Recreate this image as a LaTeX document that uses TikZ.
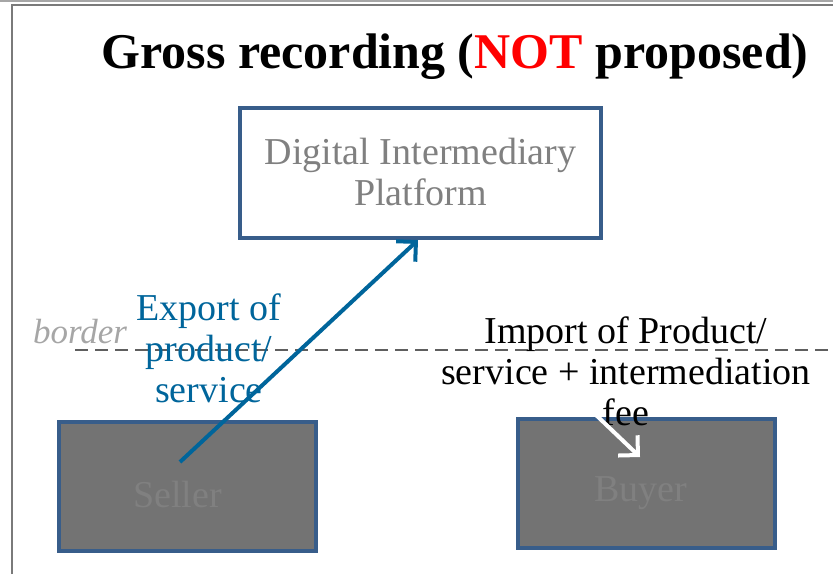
\documentclass[tikz,border=0pt]{standalone}
\usepackage{fontspec}
\setmainfont{Liberation Serif}
\usetikzlibrary{arrows.meta}
\definecolor{boxblue}{HTML}{385D8A}
\definecolor{boxfill}{HTML}{737373}
\definecolor{boxtext}{HTML}{808080}
\definecolor{arrblue}{HTML}{00659B}
\definecolor{bordtext}{HTML}{A6A6A6}
\definecolor{dashgray}{HTML}{5F5F5F}
\definecolor{framegray}{HTML}{7A7A7A}
\tikzset{
  x=1pt, y=-1pt,
  bigfont/.style={font=\fontsize{38}{41}\selectfont},
  platbox/.style={draw=boxblue, line width=4pt, fill=white, minimum width=361pt, minimum height=130pt, inner sep=0pt},
  partybox/.style={draw=boxblue, line width=4pt, fill=boxfill, minimum width=257pt, minimum height=129pt, inner sep=0pt},
  lbl/.style={bigfont, align=center, inner sep=0pt, anchor=base},
  flow/.style={line width=4pt, -{Straight Barb[length=14pt,width=28pt,line width=4pt]}},
}
\begin{document}
\begin{tikzpicture}
\useasboundingbox (0,0) rectangle (833,574);
% frame
\coordinate (ftl) at (0,1);
\coordinate (ftr) at (833,1);
\draw[line width=2pt, draw=gray!70] (ftl) -- (ftr);
\coordinate (fa) at (11.5,574);
\coordinate (fb) at (11.5,5);
\coordinate (fc) at (833,5);
\draw[line width=2pt, draw=framegray] (fa) -- (fb) -- (fc);
% title
\node[anchor=base, inner sep=0pt, font=\fontsize{50}{55}\selectfont\bfseries] (title) at (455,68) {Gross recording (\textcolor{red}{NOT} proposed)};
% border
\coordinate (dl) at (75,350);
\coordinate (dr) at (833,350);
\draw[dashgray, line width=2.5pt, dash pattern=on 13pt off 7pt] (dl) -- (dr);
\node[anchor=base, inner sep=0pt, font=\fontsize{35}{38}\selectfont\itshape, text=bordtext] (bordlbl) at (80,343) {border};
% boxes
\node[platbox] (platform) at (420.5,173) {};
\node[lbl, text=boxtext] (plattext) at (420.5,205) {Digital Intermediary\\Platform};
\node[partybox] (seller) at (187.5,486.5) {};
\node[lbl, text=boxtext] (sellertext) at (177.5,507) {Seller};
\node[partybox] (buyer) at (646.5,483.5) {};
\node[lbl, text=boxtext] (buyertext) at (641,501) {Buyer};
% export arrow
\coordinate (exs) at (180,462);
\draw[flow, arrblue] (exs) -- (platform.south -| 418,0);
\node[lbl, text=arrblue] (exportlbl) at (209,402) {Export of\\product/\\service};
% import
\node[lbl, text=black] (importlbl) at (626,425) {Import of Product/\\service + intermediation\\fee};
\coordinate (ims) at (596,415);
\coordinate (ime) at (640,457);
\draw[flow, white] (ims) -- (ime);
\end{tikzpicture}
\end{document}
